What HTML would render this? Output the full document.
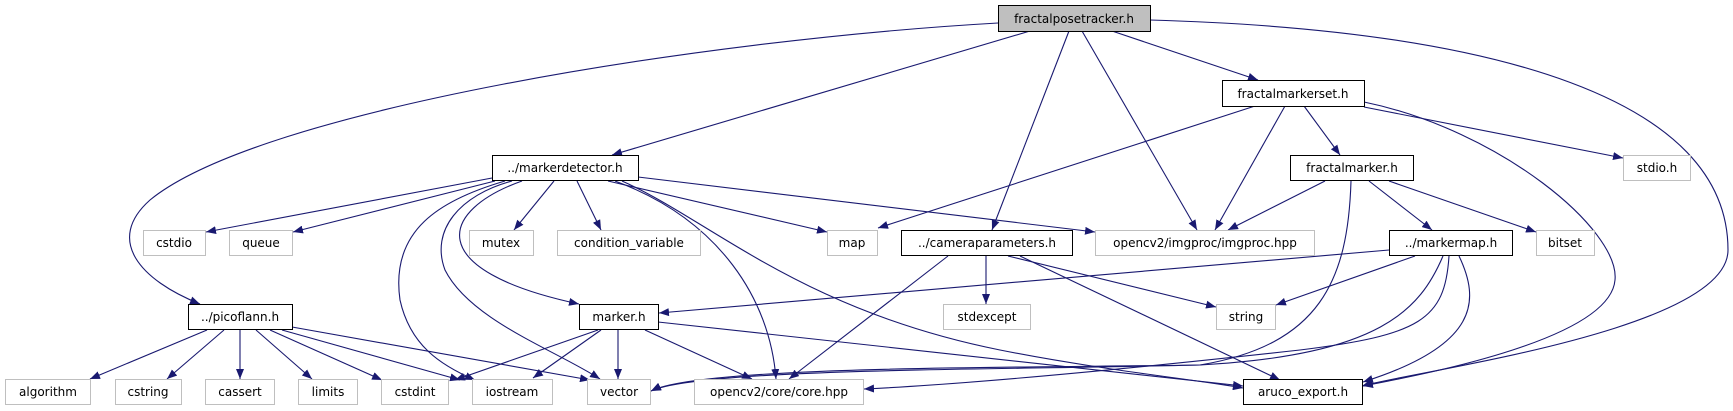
<!DOCTYPE html>
<html><head><meta charset="utf-8"><style>
html,body{margin:0;padding:0;background:#fff;}
svg{display:block;}
text{font-family:"DejaVu Sans","Liberation Sans",sans-serif;font-size:12px;fill:#000;}
</style></head><body>
<svg width="1733" height="411" viewBox="0 0 1733 411" xmlns="http://www.w3.org/2000/svg">
<defs>
<marker id="a" markerWidth="10" markerHeight="8" refX="10" refY="4" orient="auto" markerUnits="userSpaceOnUse">
<path d="M0,0 L10,4 L0,8 Z" fill="#191970"/>
</marker>
</defs>
<g fill="none" stroke="#191970" stroke-width="1.1" marker-end="url(#a)">
<!-- fractalposetracker -->
<path d="M998,23 C700,40 260,110 150,200 C105,240 140,280 200,304"/>
<path d="M1030,31 L612,155"/>
<path d="M1069,31 L992,230"/>
<path d="M1082,31 L1197,230"/>
<path d="M1112,31 L1258,80"/>
<path d="M1150,20 C1500,30 1728,100 1728,250 C1728,330 1420,370 1362,386"/>
<!-- fractalmarkerset -->
<path d="M1255,106 L878,228"/>
<path d="M1285,106 L1215,230"/>
<path d="M1304,106 L1340,155"/>
<path d="M1364,107 L1623,158"/>
<path d="M1364,102 C1500,130 1620,230 1615,280 C1610,340 1420,375 1363,386"/>
<!-- fractalmarker -->
<path d="M1325,181 L1228,230"/>
<path d="M1369,181 L1432,230"/>
<path d="M1389,181 L1536,232"/>
<path d="M1351,181 C1348,280 1320,345 1200,365 C1000,370 700,368 651,391"/>
<!-- markermap -->
<path d="M1389,250 L659,313"/>
<path d="M1415,256 L1276,305"/>
<path d="M1443,256 C1420,310 1380,355 1200,365 C1000,368 700,366 651,391"/>
<path d="M1449,256 C1445,320 1420,335 1300,350 C1100,372 950,385 864,389"/>
<path d="M1459,256 C1480,300 1480,345 1363,382"/>
<!-- markerdetector -->
<path d="M492,178 L206,232"/>
<path d="M495,181 L293,232"/>
<path d="M505,181 C440,200 390,230 400,300 C410,345 440,365 475,380"/>
<path d="M512,181 C460,195 430,230 445,270 C470,320 555,350 600,379"/>
<path d="M522,181 C440,210 420,270 579,304"/>
<path d="M554,181 L514,230"/>
<path d="M577,181 L601,230"/>
<path d="M608,181 L827,232"/>
<path d="M638,177 L1095,232"/>
<path d="M615,181 C720,220 770,300 776,379"/>
<path d="M622,181 C710,220 800,310 1000,350 C1100,370 1200,380 1243,388"/>
<!-- cameraparameters -->
<path d="M948,256 L789,379"/>
<path d="M986,256 L986,304"/>
<path d="M1008,256 L1216,307"/>
<path d="M1020,256 L1280,380"/>
<!-- marker.h -->
<path d="M598,330 L455,380"/>
<path d="M601,330 L533,378"/>
<path d="M618,330 L618,379"/>
<path d="M645,330 L752,379"/>
<path d="M658,322 L1243,386"/>
<!-- picoflann -->
<path d="M207,330 L90,379"/>
<path d="M224,330 L167,379"/>
<path d="M240,330 L240,379"/>
<path d="M256,330 L312,379"/>
<path d="M270,330 L382,380"/>
<path d="M282,330 L460,380"/>
<path d="M292,327 L590,380"/>
</g>
<g stroke-width="1">
<rect x="998.5" y="5.5" width="152" height="26" fill="#bfbfbf" stroke="#000"/>
<rect x="1222.5" y="80.5" width="142" height="26" fill="#fff" stroke="#000"/>
<rect x="492.5" y="155.5" width="146" height="25" fill="#fff" stroke="#000"/>
<rect x="1290.5" y="155.5" width="123" height="25" fill="#fff" stroke="#000"/>
<rect x="1623.5" y="155.5" width="67" height="25" fill="#fff" stroke="#bfbfbf"/>
<rect x="143.5" y="230.5" width="62" height="25" fill="#fff" stroke="#bfbfbf"/>
<rect x="229.5" y="230.5" width="63" height="25" fill="#fff" stroke="#bfbfbf"/>
<rect x="469.5" y="230.5" width="64" height="25" fill="#fff" stroke="#bfbfbf"/>
<rect x="557.5" y="230.5" width="143" height="25" fill="#fff" stroke="#bfbfbf"/>
<rect x="827.5" y="230.5" width="50" height="25" fill="#fff" stroke="#bfbfbf"/>
<rect x="901.5" y="230.5" width="171" height="25" fill="#fff" stroke="#000"/>
<rect x="1095.5" y="230.5" width="219" height="25" fill="#fff" stroke="#bfbfbf"/>
<rect x="1389.5" y="230.5" width="123" height="25" fill="#fff" stroke="#000"/>
<rect x="1536.5" y="230.5" width="58" height="25" fill="#fff" stroke="#bfbfbf"/>
<rect x="188.5" y="304.5" width="104" height="25" fill="#fff" stroke="#000"/>
<rect x="579.5" y="304.5" width="79" height="25" fill="#fff" stroke="#000"/>
<rect x="943.5" y="304.5" width="87" height="25" fill="#fff" stroke="#bfbfbf"/>
<rect x="1216.5" y="304.5" width="59" height="25" fill="#fff" stroke="#bfbfbf"/>
<rect x="5.5" y="379.5" width="85" height="25" fill="#fff" stroke="#bfbfbf"/>
<rect x="115.5" y="379.5" width="66" height="25" fill="#fff" stroke="#bfbfbf"/>
<rect x="205.5" y="379.5" width="69" height="25" fill="#fff" stroke="#bfbfbf"/>
<rect x="298.5" y="379.5" width="59" height="25" fill="#fff" stroke="#bfbfbf"/>
<rect x="381.5" y="379.5" width="67" height="25" fill="#fff" stroke="#bfbfbf"/>
<rect x="472.5" y="379.5" width="80" height="25" fill="#fff" stroke="#bfbfbf"/>
<rect x="587.5" y="379.5" width="63" height="25" fill="#fff" stroke="#bfbfbf"/>
<rect x="694.5" y="379.5" width="169" height="25" fill="#fff" stroke="#bfbfbf"/>
<rect x="1243.5" y="379.5" width="119" height="25" fill="#fff" stroke="#000"/>
</g>
<g text-anchor="middle">
<text x="1074" y="23">fractalposetracker.h</text>
<text x="1293" y="98">fractalmarkerset.h</text>
<text x="565" y="172">../markerdetector.h</text>
<text x="1352" y="172">fractalmarker.h</text>
<text x="1657" y="172">stdio.h</text>
<text x="174" y="247">cstdio</text>
<text x="261" y="247">queue</text>
<text x="501" y="247">mutex</text>
<text x="629" y="247">condition_variable</text>
<text x="852" y="247">map</text>
<text x="987" y="247">../cameraparameters.h</text>
<text x="1205" y="247">opencv2/imgproc/imgproc.hpp</text>
<text x="1451" y="247">../markermap.h</text>
<text x="1565" y="247">bitset</text>
<text x="240" y="321">../picoflann.h</text>
<text x="619" y="321">marker.h</text>
<text x="987" y="321">stdexcept</text>
<text x="1246" y="321">string</text>
<text x="48" y="396">algorithm</text>
<text x="148" y="396">cstring</text>
<text x="240" y="396">cassert</text>
<text x="328" y="396">limits</text>
<text x="415" y="396">cstdint</text>
<text x="512" y="396">iostream</text>
<text x="619" y="396">vector</text>
<text x="779" y="396">opencv2/core/core.hpp</text>
<text x="1303" y="396">aruco_export.h</text>
</g>
</svg>
</body></html>
